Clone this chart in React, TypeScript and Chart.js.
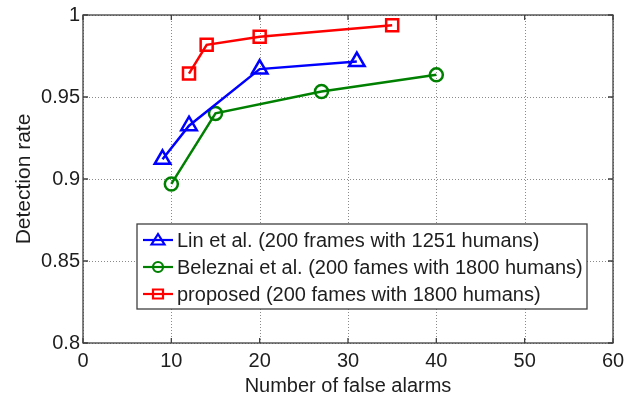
import React, { useEffect, useRef } from "react";
import { Chart, registerables } from "chart.js";
Chart.register(...registerables);

const linX = [9, 12, 20, 31];
const linY = [0.912, 0.9325, 0.967, 0.9716];
const belX = [10, 15, 27, 40];
const belY = [0.897, 0.94, 0.9534, 0.9635];
const propX = [12, 14, 20, 35];
const propY = [0.9643, 0.9818, 0.9868, 0.9937];
const seriesLabels = [
  "Lin et al. (200 frames with 1251 humans)",
  "Beleznai et al. (200 fames with 1800 humans)",
  "proposed (200 fames with 1800 humans)",
];
const seriesColors = ["#0000ff", "#008000", "#ff0000"];
const seriesStyles = ["triangle", "circle", "rect"];
const xTicks = [0, 10, 20, 30, 40, 50, 60];
const yTicks = [0.8, 0.85, 0.9, 0.95, 1];
const yTickLabels = ["0.8", "0.85", "0.9", "0.95", "1"];
const xTitle = "Number of false alarms";
const yTitle = "Detection rate";

const FONT = "'Liberation Sans', Arial, sans-serif";
const TEXT = "#1e1e1e";

function drawMarker(ctx: CanvasRenderingContext2D, style: string, x: number, y: number, color: string) {
  ctx.save();
  ctx.strokeStyle = color;
  ctx.lineWidth = 2.2;
  ctx.beginPath();
  if (style === "triangle") {
    ctx.moveTo(x, y - 6);
    ctx.lineTo(x + 6.5, y + 4.5);
    ctx.lineTo(x - 6.5, y + 4.5);
    ctx.closePath();
  } else if (style === "circle") {
    ctx.arc(x, y, 5, 0, Math.PI * 2);
  } else {
    ctx.rect(x - 5, y - 4.5, 10, 9);
  }
  ctx.stroke();
  ctx.restore();
}

const framePlugin = {
  id: "frame",
  beforeDatasetsDraw(chart: any) {
    const { ctx, chartArea: a, scales } = chart;
    const xs = scales.x, ys = scales.y;
    ctx.save();
    ctx.strokeStyle = "#8a8a8a";
    ctx.lineWidth = 1;
    ctx.setLineDash([1, 2]);
    xTicks.forEach((v) => {
      const px = Math.round(xs.getPixelForValue(v)) + 0.5;
      ctx.beginPath();
      ctx.moveTo(px, a.top);
      ctx.lineTo(px, a.bottom);
      ctx.stroke();
    });
    yTicks.forEach((v) => {
      const py = Math.round(ys.getPixelForValue(v)) + 0.5;
      ctx.beginPath();
      ctx.moveTo(a.left, py);
      ctx.lineTo(a.right, py);
      ctx.stroke();
    });
    ctx.setLineDash([]);
    ctx.strokeStyle = "#404040";
    ctx.lineWidth = 1.3;
    ctx.strokeRect(a.left, a.top, a.right - a.left, a.bottom - a.top);
    const tl = 5;
    xTicks.forEach((v) => {
      const px = xs.getPixelForValue(v);
      ctx.beginPath();
      ctx.moveTo(px, a.bottom);
      ctx.lineTo(px, a.bottom - tl);
      ctx.moveTo(px, a.top);
      ctx.lineTo(px, a.top + tl);
      ctx.stroke();
    });
    yTicks.forEach((v) => {
      const py = ys.getPixelForValue(v);
      ctx.beginPath();
      ctx.moveTo(a.left, py);
      ctx.lineTo(a.left + tl, py);
      ctx.moveTo(a.right, py);
      ctx.lineTo(a.right - tl, py);
      ctx.stroke();
    });
    ctx.restore();
  },
  afterDraw(chart: any) {
    const { ctx, chartArea: a } = chart;
    ctx.save();
    ctx.fillStyle = TEXT;
    ctx.font = `20px ${FONT}`;
    ctx.textAlign = "center";
    ctx.textBaseline = "middle";
    ctx.fillText(xTitle, (a.left + a.right) / 2, 386);
    ctx.save();
    ctx.translate(24, (a.top + a.bottom) / 2);
    ctx.rotate(-Math.PI / 2);
    ctx.font = `21px ${FONT}`;
    ctx.fillText(yTitle, 0, 0);
    ctx.restore();
    // legend
    const bx = 137, by = 224, bw = 450, bh = 85;
    ctx.fillStyle = "#ffffff";
    ctx.fillRect(bx, by, bw, bh);
    ctx.strokeStyle = "#404040";
    ctx.lineWidth = 1.3;
    ctx.strokeRect(bx, by, bw, bh);
    const rows = [240, 267, 294];
    seriesLabels.forEach((lab, i) => {
      const y = rows[i];
      ctx.strokeStyle = seriesColors[i];
      ctx.lineWidth = 2.2;
      ctx.beginPath();
      ctx.moveTo(143, y);
      ctx.lineTo(173, y);
      ctx.stroke();
      drawMarker(ctx, seriesStyles[i], 158, y, seriesColors[i]);
      ctx.fillStyle = TEXT;
      ctx.textAlign = "left";
      ctx.textBaseline = "middle";
      ctx.font = `20px ${FONT}`;
      ctx.fillText(lab, 177, y + 1);
    });
    ctx.restore();
  },
};

export default function App() {
  const ref = useRef<HTMLCanvasElement>(null);
  useEffect(() => {
    const mk = (xs: number[], ys: number[], i: number) => ({
      label: seriesLabels[i],
      data: xs.map((x, k) => ({ x, y: ys[k] })),
      borderColor: seriesColors[i],
      backgroundColor: "rgba(0,0,0,0)",
      pointBorderColor: seriesColors[i],
      pointBackgroundColor: "rgba(0,0,0,0)",
      pointStyle: seriesStyles[i],
      pointRadius: i === 0 ? 9 : i === 1 ? 6.5 : 8.5,
      pointBorderWidth: 2.5,
      borderWidth: 2.5,
      showLine: true,
      fill: false,
      tension: 0,
    });
    const chart = new Chart(ref.current!, {
      type: "scatter",
      data: {
        datasets: [mk(linX, linY, 0), mk(belX, belY, 1), mk(propX, propY, 2)],
      },
      options: {
        animation: false,
        responsive: false,
        maintainAspectRatio: false,
        layout: { padding: { top: 14, right: 28, bottom: 0, left: 0 } },
        plugins: { legend: { display: false }, tooltip: { enabled: false } },
        scales: {
          x: {
            type: "linear",
            min: 0,
            max: 60,
            afterBuildTicks: (s: any) => {
              s.ticks = xTicks.map((v) => ({ value: v }));
            },
            afterFit: (s: any) => {
              s.height = 55;
            },
            grid: { display: false, drawTicks: false, tickLength: 0 },
            border: { display: false },
            ticks: {
              color: TEXT,
              font: { family: FONT, size: 20 },
              padding: 6,
              maxRotation: 0,
              callback: (v: any) => String(v),
            },
          },
          y: {
            type: "linear",
            min: 0.8,
            max: 1,
            afterBuildTicks: (s: any) => {
              s.ticks = yTicks.map((v) => ({ value: v }));
            },
            afterFit: (s: any) => {
              s.width = 83;
            },
            grid: { display: false, drawTicks: false, tickLength: 0 },
            border: { display: false },
            ticks: {
              color: TEXT,
              font: { family: FONT, size: 20 },
              padding: 3,
              callback: (v: any) => {
                const idx = yTicks.findIndex((t) => Math.abs(t - v) < 1e-6);
                return idx >= 0 ? yTickLabels[idx] : "";
              },
            },
          },
        },
      },
      plugins: [framePlugin],
    } as any);
    return () => chart.destroy();
  }, []);
  return (
    <div style={{ position: "fixed", left: 0, top: 0, width: 641, height: 398, background: "#fff" }}>
      <canvas ref={ref} width={641} height={398} style={{ width: 641, height: 398 }} />
    </div>
  );
}
